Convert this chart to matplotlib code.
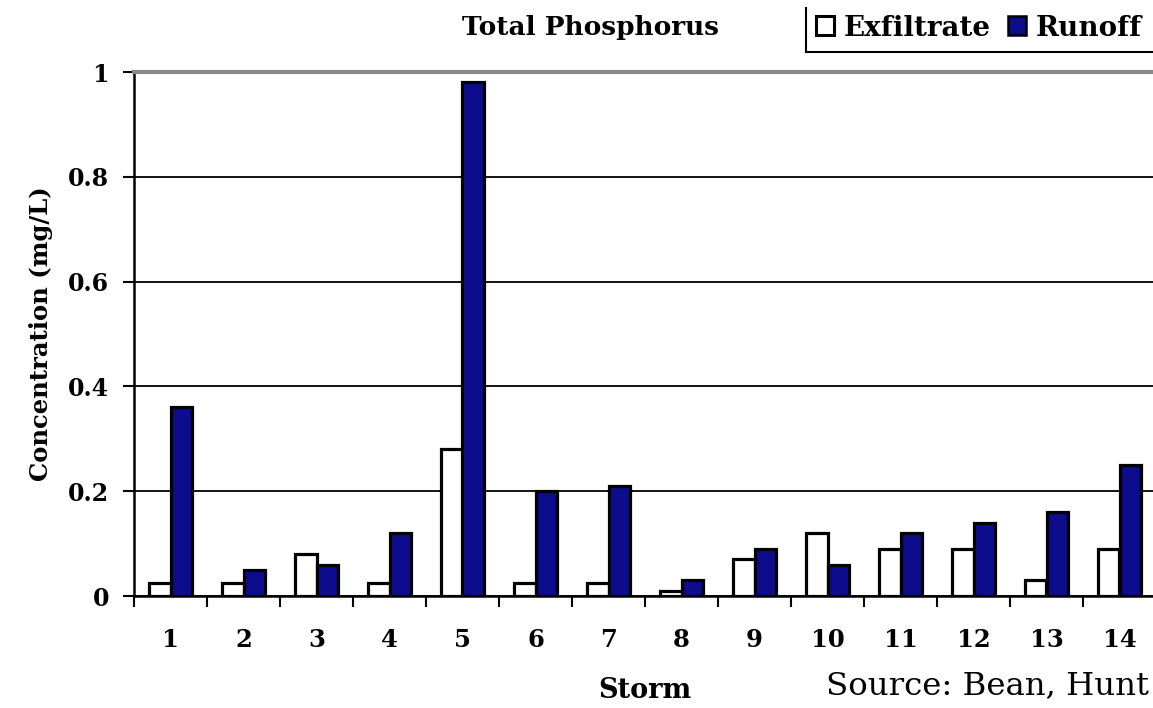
import matplotlib
matplotlib.use("Agg")
import matplotlib.pyplot as plt
import numpy as np
from matplotlib.lines import Line2D
from matplotlib.patches import Patch

storms = [str(i) for i in range(1, 15)]
exfiltrate = [0.025, 0.025, 0.08, 0.025, 0.28, 0.025, 0.025, 0.01, 0.07, 0.12, 0.09, 0.09, 0.03, 0.09]
runoff = [0.36, 0.05, 0.06, 0.12, 0.98, 0.20, 0.21, 0.03, 0.09, 0.06, 0.12, 0.14, 0.16, 0.25]
yticks = [0, 0.2, 0.4, 0.6, 0.8, 1.0]
ytick_labels = ["0", "0.2", "0.4", "0.6", "0.8", "1"]

W, H = 1153, 708
fig = plt.figure(figsize=(W / 100, H / 100), dpi=100)
ax = fig.add_axes([134 / W, 1 - 596 / H, (1156 - 134) / W, (596 - 72) / H])

serif = ["DejaVu Serif"]
navy = "#0c0c8c"

x = np.arange(len(storms))
bw = 0.29
ax.bar(x - bw / 2, exfiltrate, bw, color="white", edgecolor="black", linewidth=2.3, zorder=3)
ax.bar(x + bw / 2, runoff, bw, color=navy, edgecolor="black", linewidth=2.3, zorder=3)

ax.set_xlim(-0.5, len(storms) - 0.5)
ax.set_ylim(0, 1)

ax.set_yticks(yticks)
ax.set_yticklabels(ytick_labels, fontfamily=serif, fontweight="bold", fontsize=17)
ax.yaxis.grid(True, color="black", linewidth=1.3, zorder=0)
ax.tick_params(axis="y", direction="out", length=8, width=1.5, pad=10)

ax.set_xticks(np.arange(-0.5, len(storms) - 0.5 + 0.01, 1.0))
ax.set_xticklabels([])
ax.tick_params(axis="x", which="major", direction="out", length=8, width=1.5)
ax.set_xticks(x, minor=True)
ax.set_xticklabels(storms, minor=True, fontfamily=serif, fontweight="bold", fontsize=17.5)
ax.tick_params(axis="x", which="minor", length=0, pad=23)

for s in ["left", "bottom"]:
    ax.spines[s].set_linewidth(1.8)
    ax.spines[s].set_color("black")
ax.spines["right"].set_visible(False)
ax.spines["top"].set_color("#888888")
ax.spines["top"].set_linewidth(3)

ax.set_ylabel("Concentration (mg/L)", fontfamily=serif, fontweight="bold", fontsize=17.5, labelpad=11)
ax.set_xlabel("Storm", fontfamily=serif, fontweight="bold", fontsize=19.5, labelpad=18)

fig.text(591 / W, 1 - 28 / H, "Total Phosphorus", ha="center", va="center",
         fontfamily=serif, fontweight="bold", fontsize=19)

handles = [Patch(facecolor="white", edgecolor="black", linewidth=2.2),
           Patch(facecolor=navy, edgecolor="black", linewidth=1.8)]
fig.legend(handles, ["Exfiltrate", "Runoff"], loc="center left",
           bbox_to_anchor=(816 / W, 1 - 28 / H), ncol=2, frameon=False,
           handlelength=0.65, handleheight=0.65, handletextpad=0.35, columnspacing=0.6,
           borderaxespad=0, borderpad=0,
           prop={"family": serif, "weight": "bold", "size": 20})
fig.add_artist(Line2D([806 / W, 806 / W], [1 - 8 / H, 1 - 52 / H], color="black", linewidth=1.5,
                      transform=fig.transFigure))
fig.add_artist(Line2D([806 / W, 1.0], [1 - 52 / H, 1 - 52 / H], color="black", linewidth=1.5,
                      transform=fig.transFigure))

fig.text(826 / W, 1 - 686 / H, "Source: Bean, Hunt", ha="left", va="center",
         fontfamily=serif, fontsize=23.3)

fig.savefig("out.png", dpi=100)
